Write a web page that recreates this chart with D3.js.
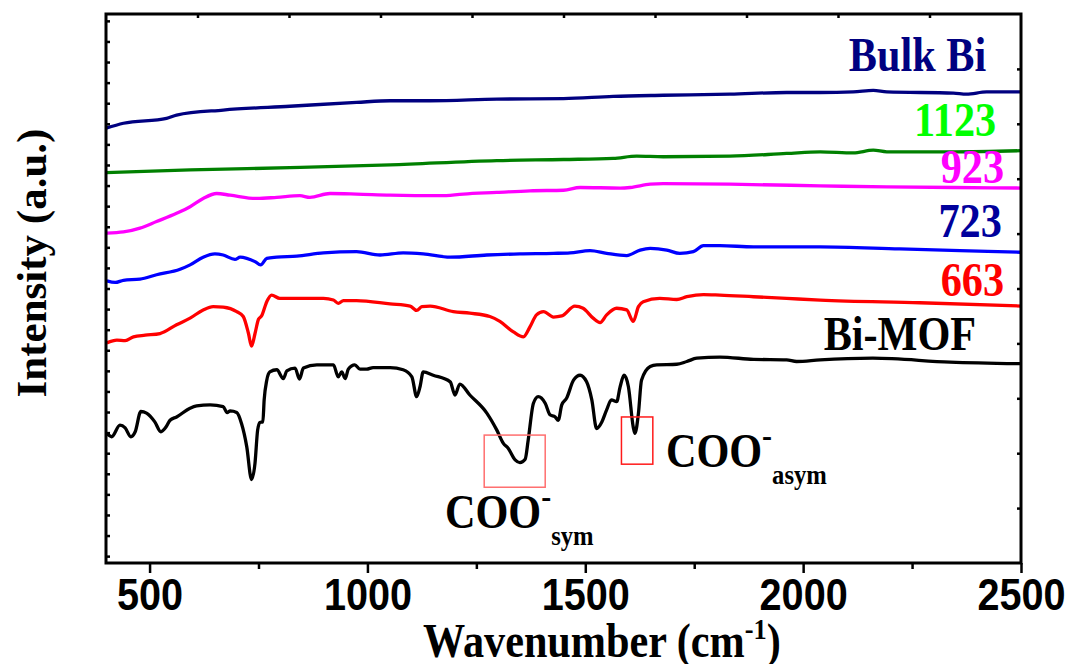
<!DOCTYPE html>
<html>
<head>
<meta charset="utf-8">
<script src="https://cdn.jsdelivr.net/npm/d3@7"></script>
<style>
  html, body { margin: 0; padding: 0; background: #fff; }
  svg { display: block; }
</style>
</head>
<body>
<svg id="chart" width="1074" height="664"></svg>
<script>
// FTIR spectra: [wavenumber (cm-1), intensity (a.u., stacked offsets)]
const biMOF = [
  [402,23.6],[413,23.0],[432,25.1],[444,24.6],[457,23.0],[467,23.9],[480,27.6],[493,27.3],
  [512,25.7],[526,23.9],[538,24.8],[547,26.0],[562,26.6],[593,28.2],[608,28.6],[639,28.8],
  [669,28.5],[678,27.4],[685,27.7],[700,27.4],[711,25.4],[723,21.2],[734,15.2],[742,18.2],
  [748,24.2],[753,25.6],[760,25.7],[763,29.7],[769,33.3],[776,34.8],[792,35.2],[807,33.6],
  [815,35.0],[834,35.5],[844,33.5],[853,35.5],[884,36.1],[922,36.1],[933,33.9],[941,34.8],
  [949,33.6],[956,35.3],[971,36.1],[983,35.3],[998,35.3],[1013,35.6],[1052,35.6],[1082,35.2],
  [1102,33.9],[1113,30.3],[1121,32.2],[1128,34.8],[1151,34.2],[1190,33.0],[1201,30.6],[1212,32.6],
  [1235,30.6],[1274,27.3],[1297,24.2],[1312,21.8],[1323,20.9],[1339,18.8],[1350,18.3],[1362,18.9],
  [1369,22.4],[1381,29.1],[1392,30.3],[1408,29.1],[1419,27.0],[1431,26.6],[1438,26.0],[1446,28.8],
  [1457,30.0],[1473,33.3],[1488,34.2],[1503,33.0],[1515,29.7],[1526,24.5],[1538,25.7],[1549,27.9],
  [1560,29.7],[1572,29.4],[1580,32.1],[1589,34.2],[1599,32.1],[1610,24.8],[1614,23.6],[1622,27.3],
  [1629,33.3],[1649,35.8],[1664,36.1],[1710,36.2],[1733,36.7],[1756,37.3],[1809,37.5],[1886,37.1],
  [1962,37.0],[1985,36.7],[2039,37.0],[2160,37.3],[2337,36.6],[2500,36.3]
];
const s663 = [
  [402,40.1],[425,40.6],[444,40.5],[463,41.2],[490,41.5],[524,41.8],[562,43.4],[593,44.6],
  [623,46.1],[646,46.7],[669,46.6],[700,45.8],[715,44.9],[727,41.8],[734,39.5],[742,41.8],
  [750,44.4],[757,45.0],[769,47.6],[780,48.8],[799,48.2],[838,48.2],[899,48.2],[922,47.9],
  [933,47.3],[945,47.8],[975,47.8],[1052,47.2],[1098,46.8],[1113,46.0],[1125,46.7],[1144,46.8],
  [1197,45.8],[1235,45.5],[1281,44.9],[1304,44.0],[1335,42.1],[1358,41.2],[1373,43.0],[1388,45.2],
  [1404,45.8],[1427,44.8],[1446,45.0],[1476,46.8],[1495,46.4],[1518,44.6],[1534,43.8],[1549,45.2],
  [1572,46.4],[1595,46.1],[1610,44.0],[1622,46.7],[1633,47.6],[1671,48.2],[1710,48.0],[1733,48.5],
  [1771,48.9],[1809,48.8],[1886,48.5],[1962,48.2],[2039,47.9],[2268,47.4],[2500,46.8]
];
const s723 = [
  [402,51.4],[421,51.1],[440,51.5],[478,51.7],[516,52.5],[570,53.5],[593,54.3],[623,55.7],
  [650,56.3],[669,56.1],[696,55.3],[708,55.7],[723,55.5],[742,54.9],[755,54.3],[769,55.5],
  [792,55.7],[838,55.9],[899,56.5],[975,56.7],[1029,56.1],[1082,56.5],[1128,56.3],[1190,55.7],
  [1274,56.1],[1350,56.3],[1427,56.4],[1465,56.5],[1511,56.9],[1549,56.4],[1595,56.0],[1626,57.0],
  [1649,57.3],[1687,57.0],[1717,56.4],[1748,56.7],[1771,57.8],[1809,57.8],[1886,57.6],[1962,57.6],
  [2039,57.6],[2222,57.2],[2360,56.9],[2500,56.6]
];
const s923 = [
  [402,60.1],[440,60.3],[478,61.0],[516,62.2],[562,63.7],[593,64.9],[623,66.4],[654,67.3],
  [685,67.0],[746,66.4],[792,66.6],[845,66.9],[868,66.6],[914,67.3],[975,67.2],[1052,67.0],
  [1167,66.9],[1220,67.2],[1297,67.5],[1373,67.8],[1450,67.9],[1488,68.4],[1580,68.3],[1603,68.4],
  [1649,69.0],[1679,69.1],[1832,69.0],[2039,68.7],[2192,68.5],[2345,68.4],[2500,68.3]
];
const s1123 = [
  [400,71.1],[593,71.6],[822,72.0],[1052,72.5],[1297,73.3],[1450,73.5],[1564,73.7],[1618,74.1],
  [1679,74.0],[1832,74.1],[1962,74.6],[2039,74.9],[2115,74.7],[2161,75.2],[2192,74.9],[2345,74.9],
  [2500,75.1]
];
const bulkBi = [
  [400,79.2],[440,80.1],[539,81.0],[562,81.6],[669,82.5],[822,83.2],[975,83.9],[1052,84.2],
  [1144,84.2],[1297,84.5],[1450,84.6],[1564,85.0],[1679,85.2],[1832,85.4],[1962,85.7],
  [2039,85.7],[2115,85.8],[2161,86.1],[2192,85.8],[2345,85.6],[2375,85.4],[2421,85.8],[2500,85.8]
];

const seriesData   = [biMOF, s663, s723, s923, s1123, bulkBi];
const seriesNames  = ["Bi-MOF", "663", "723", "923", "1123", "Bulk Bi"];
const lineColors   = ["#000000", "#ff0000", "#0000ff", "#ff00ff", "#008000", "#000080"];
const labelColors  = ["#000000", "#ff0000", "#00009c", "#ff00ff", "#00ff00", "#000080"];
// label anchor: [right-edge wavenumber, intensity of baseline]
const labelPos     = [[2397, 38.8], [2461, 48.7], [2456, 59.4], [2461, 69.2], [2443, 77.8], [2420, 89.6]];

const xTickValues  = [500, 1000, 1500, 2000, 2500];
const xMinorValues = [750, 1250, 1750, 2250];
const topTickValues = [610, 820, 1030, 1240, 1450, 1660, 1870, 2080, 2290];
const rightTickValues = [10, 20, 30, 40, 50, 60, 70, 80, 90];
const leftTickValues = d3.range(1.25, 100, 3.75);

// highlighted carboxylate bands: [w0, w1, intensity top, intensity bottom]
const bandBoxes = [[1268, 1408, 23.3, 13.8], [1583, 1655, 26.6, 18.0]];
const boxColors = ["#ff6f6f", "#ff1a1a"];

const serif = "'Liberation Serif','Times New Roman',serif";
const sans = "'Liberation Sans',Arial,sans-serif";

const svg = d3.select("#chart");
const x = d3.scaleLinear().domain([400, 2500]).range([106, 1021]);
const y = d3.scaleLinear().domain([0, 100]).range([563, 14]);

// spectra
const line = d3.line().x(d => x(d[0])).y(d => y(d[1])).curve(d3.curveMonotoneX);
svg.append("g").selectAll("path").data(seriesData).join("path")
  .attr("d", line)
  .attr("fill", "none")
  .attr("stroke", (d, i) => lineColors[i])
  .attr("stroke-width", 3.3)
  .attr("stroke-linejoin", "round");

// band boxes
svg.append("g").selectAll("rect").data(bandBoxes).join("rect")
  .attr("x", d => x(d[0])).attr("y", d => y(d[2]))
  .attr("width", d => x(d[1]) - x(d[0])).attr("height", d => y(d[3]) - y(d[2]))
  .attr("fill", "none").attr("stroke", (d, i) => boxColors[i]).attr("stroke-width", 1.5);

// axes
function styleAxis(g) {
  g.select(".domain").remove();
  g.selectAll(".tick line").attr("stroke", "#000").attr("stroke-width", 2.5);
}
svg.append("g").attr("transform", `translate(0,${y(0)})`)
  .call(d3.axisBottom(x).tickValues(xTickValues).tickSize(10).tickPadding(6).tickFormat(d3.format("d")))
  .call(styleAxis)
  .call(g => g.selectAll(".tick text")
    .attr("font-family", sans).attr("font-weight", "bold").attr("font-size", 44)
    .attr("fill", "#000").attr("transform", "scale(0.9,1)"));
svg.append("g").attr("transform", `translate(0,${y(0)})`)
  .call(d3.axisBottom(x).tickValues(xMinorValues).tickSize(6).tickFormat(""))
  .call(styleAxis);
svg.append("g").attr("transform", `translate(0,${y(100)})`)
  .call(d3.axisTop(x).tickValues(topTickValues).tickSize(-4).tickFormat(""))
  .call(styleAxis);
svg.append("g").attr("transform", `translate(${x(400)},0)`)
  .call(d3.axisLeft(y).tickValues(leftTickValues).tickSize(-4).tickFormat(""))
  .call(styleAxis);
svg.append("g").attr("transform", `translate(${x(2500)},0)`)
  .call(d3.axisRight(y).tickValues(rightTickValues).tickSize(-4).tickFormat(""))
  .call(styleAxis);

// frame
svg.append("rect")
  .attr("x", x(400)).attr("y", y(100))
  .attr("width", x(2500) - x(400)).attr("height", y(0) - y(100))
  .attr("fill", "none").attr("stroke", "#000").attr("stroke-width", 3);

// series labels
svg.append("g").selectAll("g").data(seriesNames).join("g")
  .attr("transform", (d, i) => `translate(${x(labelPos[i][0])},${y(labelPos[i][1])}) scale(0.88,1)`)
  .append("text")
  .attr("text-anchor", "end")
  .attr("font-family", serif).attr("font-weight", "bold").attr("font-size", 48)
  .attr("fill", (d, i) => labelColors[i])
  .text(d => d);

// carboxylate annotations
function cooLabel(px, py, sub) {
  const t = svg.append("g").attr("transform", `translate(${px},${py}) scale(0.88,1)`)
    .append("text").attr("font-family", serif).attr("font-weight", "bold").attr("fill", "#000");
  t.append("tspan").attr("font-size", 48).text("COO");
  t.append("tspan").attr("font-size", 34).attr("dy", -20).text("-");
  t.append("tspan").attr("font-size", 28).attr("dy", 37).text(sub);
}
cooLabel(x(1178), y(6.4), "sym");
cooLabel(x(1685), y(17.5), "asym");

// axis titles
const xt = svg.append("g").attr("transform", "translate(423,657) scale(0.88,1)")
  .append("text").attr("font-family", serif).attr("font-weight", "bold").attr("fill", "#000");
xt.append("tspan").attr("font-size", 48).text("Wavenumber (cm");
xt.append("tspan").attr("font-size", 30).attr("dy", -18).text("-1");
xt.append("tspan").attr("font-size", 48).attr("dy", 18).text(")");

svg.append("text")
  .attr("transform", "translate(46,263) rotate(-90)")
  .attr("text-anchor", "middle")
  .attr("font-family", serif).attr("font-weight", "bold").attr("font-size", 43)
  .attr("fill", "#000")
  .text("Intensity (a.u.)");
</script>
</body>
</html>
